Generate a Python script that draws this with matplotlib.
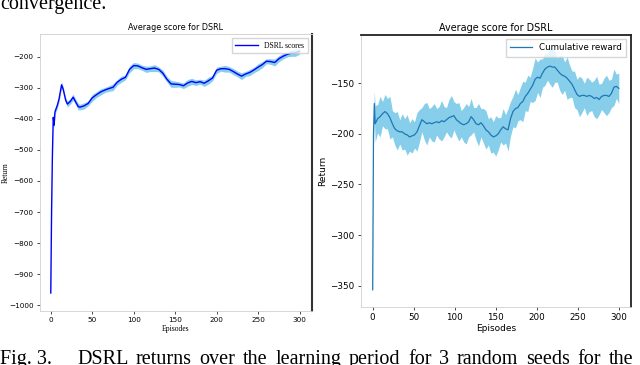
import numpy as np
import matplotlib.pyplot as plt

# left panel: DSRL scores (mean of 3 seeds) and band half width
left_ep = [0, 1, 2, 3, 4, 5, 6, 8, 10, 13, 15, 18, 20, 23, 27, 30, 33] + list(range(35, 301, 5))
left_mean = [-961, -690, -510, -395, -420, -378, -370, -355, -335, -290, -305, -340, -352, -345, -330, -345, -360,
             -362, -358, -350, -332, -322, -313, -307, -302, -298, -282, -272, -266, -240, -228, -229, -235,
             -240, -238, -236, -240, -252, -272, -287, -288, -289, -293, -284, -279, -283, -280, -285, -277,
             -268, -243, -238, -238, -240, -247, -255, -262, -255, -250, -242, -233, -225, -214, -215, -218,
             -206, -198, -192, -188, -187, -182]
left_hw = [12, 14, 12, 11, 12, 10, 9, 10, 9, 10, 9, 8, 10, 9, 10, 9, 11,
           9, 10, 8, 11, 9, 10, 8, 9, 11, 9, 10, 8, 11, 10, 9, 8,
           10, 9, 11, 8, 10, 9, 11, 10, 8, 9, 11, 10, 9, 8, 10, 11,
           9, 10, 8, 11, 9, 10, 9, 11, 8, 10, 9, 11, 10, 8, 9, 11,
           10, 9, 8, 10, 11, 9]

# right panel: cumulative reward (mean) and band half width
right_ep = [0, 1, 2] + list(range(3, 301, 3))
right_mean = [-354, -200, -170, -190, -185, -183, -180, -178, -180, -184, -190, -195, -197, -198,
              -198, -200, -201, -203, -202, -201, -198, -192, -186, -188, -190, -189, -190, -189,
              -188, -189, -187, -188, -186, -184, -183, -182, -186, -188, -190, -191, -190, -188,
              -183, -186, -190, -191, -189, -192, -196, -198, -201, -203, -202, -200, -196, -193,
              -195, -196, -185, -178, -175, -174, -170, -168, -163, -160, -156, -152, -146, -144,
              -145, -140, -136, -134, -133, -134, -134, -137, -140, -142, -143, -145, -148, -151,
              -156, -161, -163, -162, -162, -163, -162, -163, -165, -164, -166, -163, -162, -162,
              -163, -160, -154, -153, -155]
right_hw = [3, 10, 12, 18, 14, 20, 12, 17, 15, 21,
            13, 16, 19, 12, 18, 15, 20, 14, 17, 13,
            19, 16, 12, 18, 21, 14, 17, 19, 13, 16,
            20, 15, 12, 18, 21, 14, 16, 19, 13, 17,
            20, 15, 18, 12, 16, 21, 14, 17, 19, 13,
            18, 15, 20, 16, 12, 18, 14, 21, 17, 15,
            19, 13, 16, 20, 14, 18, 12, 17, 21, 15,
            19, 14, 16, 13, 18, 20, 15, 12, 17, 19,
            14, 21, 16, 13, 18, 15, 20, 17, 12, 19,
            16, 14, 18, 21, 15, 13, 17, 20, 16, 14,
            18, 12, 15]

caption_top = "convergence."
caption_fig = "Fig. 3."
caption_bottom = "DSRL returns over the learning period for 3 random seeds for the"

W, H = 640, 365
fig = plt.figure(figsize=(6.4, 3.65), dpi=100)

# ---- left chart
ax1 = fig.add_axes([0.0625, 0.148, 0.425, 0.759])
lm = np.array(left_mean)
lh = np.array(left_hw)
ax1.fill_between(left_ep, lm - lh, lm + lh, color='skyblue', lw=0)
ax1.plot(left_ep, lm, color='blue', lw=1.0, label='DSRL scores')
ax1.set_xlim(-13, 315)
ax1.set_ylim(-1019, -126)
ax1.set_xticks(range(0, 301, 50))
ax1.set_yticks(range(-1000, -199, 100))
ax1.tick_params(labelsize=5.2, length=2.5, width=0.5, pad=2)
ax1.set_title("Average score for DSRL", fontsize=5.8, pad=3)
ax1.set_xlabel("Episodes", family='Liberation Serif', fontsize=5.5, labelpad=1)
ax1.set_ylabel("Return", family='Liberation Serif', fontsize=5.5)
ax1.yaxis.set_label_coords(-0.112, 0.5)
ax1.legend(loc='upper right', prop={'family': 'Liberation Serif', 'size': 5.5},
           fancybox=False, handlelength=3, borderpad=0.5)
for s in ['left', 'bottom', 'top']:
    ax1.spines[s].set_color('#d0d0d0')
    ax1.spines[s].set_linewidth(0.6)
ax1.spines['right'].set_color('#333333')
ax1.spines['right'].set_linewidth(1.5)

# ---- right chart
ax2 = fig.add_axes([0.5636, 0.159, 0.422, 0.746])
rm = np.array(right_mean)
rh = np.array(right_hw)
ax2.fill_between(right_ep, rm - rh, rm + rh, color='skyblue', lw=0)
ax2.plot(right_ep, rm, color='#1f77b4', lw=0.9, label='Cumulative reward')
ax2.set_xlim(-14.6, 314.6)
ax2.set_ylim(-371, -102)
ax2.set_xticks(range(0, 301, 50))
ax2.set_yticks(range(-350, -149, 50))
ax2.tick_params(labelsize=6.3, length=2.5, width=0.5, pad=2)
ax2.set_title("Average score for DSRL", fontsize=6.9, pad=3)
ax2.set_xlabel("Episodes", fontsize=6.5, labelpad=1)
ax2.set_ylabel("Return", fontsize=6.5, labelpad=2)
ax2.legend(loc='upper right', fontsize=6.3, fancybox=False, handlelength=2.5, borderpad=0.5)
for s in ['left', 'bottom']:
    ax2.spines[s].set_color('#d0d0d0')
    ax2.spines[s].set_linewidth(0.6)
for s in ['top', 'right']:
    ax2.spines[s].set_color('#222222')
    ax2.spines[s].set_linewidth(1.3)

# captions of the paper page
fig.text(0.0, 1.0 - 8.5 / H, caption_top, family='Liberation Serif', fontsize=14.5,
         va='baseline', ha='left')

# bottom caption is justified across the page width
cap_y = 1.0 - 364 / H
cap_kw = dict(family='Liberation Serif', fontsize=14.5, va='baseline', ha='left')
fig.text(0.0, cap_y, caption_fig, **cap_kw)
fig.canvas.draw()
renderer = fig.canvas.get_renderer()
words = caption_bottom.split()
texts = [fig.text(0, cap_y, w_, **cap_kw) for w_ in words]
widths = [t.get_window_extent(renderer).width for t in texts]
x_start, x_end = 77, 633
gap = (x_end - x_start - sum(widths)) / (len(words) - 1)
x = x_start
for t, wd in zip(texts, widths):
    t.set_x(x / W)
    x += wd + gap

fig.savefig('out.png', dpi=100)
